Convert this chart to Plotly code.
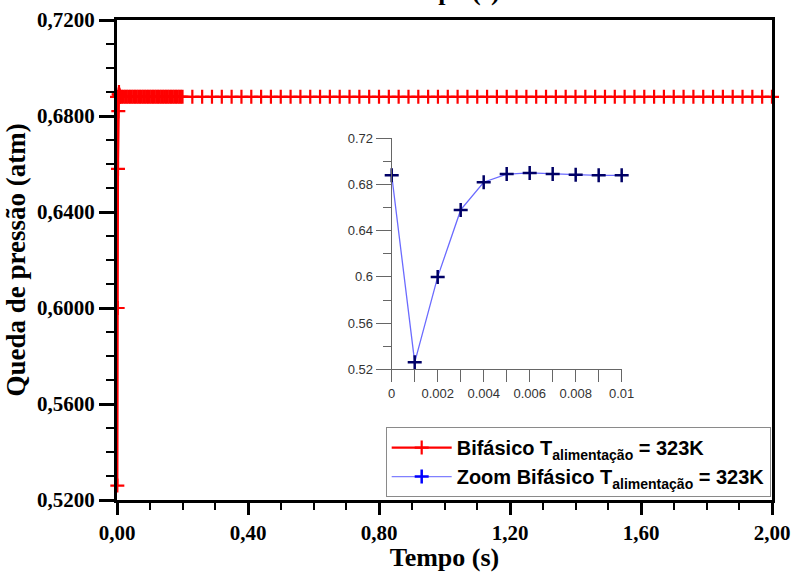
import plotly.graph_objects as go

# ---------------- data ----------------
# Zoomed series (inset): first 0.01 s
t_zoom = [0.000, 0.001, 0.002, 0.003, 0.004, 0.005, 0.006, 0.007, 0.008, 0.009, 0.010]
p_zoom = [0.688, 0.526, 0.600, 0.658, 0.682, 0.689, 0.690, 0.689, 0.6885, 0.688, 0.688]

# Main series: dense part (0.01 - 0.2 s)
t_dense = [0.015, 0.020, 0.025, 0.030, 0.035, 0.040, 0.045, 0.050, 0.055, 0.060,
           0.065, 0.070, 0.075, 0.080, 0.085, 0.090, 0.095, 0.100, 0.105, 0.110,
           0.115, 0.120, 0.125, 0.130, 0.135, 0.140, 0.145, 0.150, 0.155, 0.160,
           0.165, 0.170, 0.175, 0.180, 0.185, 0.190, 0.195, 0.200]
p_dense = [0.688, 0.688, 0.688, 0.688, 0.688, 0.688, 0.688, 0.688, 0.688, 0.688,
           0.688, 0.688, 0.688, 0.688, 0.688, 0.688, 0.688, 0.688, 0.688, 0.688,
           0.688, 0.688, 0.688, 0.688, 0.688, 0.688, 0.688, 0.688, 0.688, 0.688,
           0.688, 0.688, 0.688, 0.688, 0.688, 0.688, 0.688, 0.688]

# Main series: sparse part (0.23 - 2.0 s)
t_sparse = [0.23, 0.26, 0.29, 0.32, 0.35, 0.38, 0.41, 0.44, 0.47, 0.50,
            0.53, 0.56, 0.59, 0.62, 0.65, 0.68, 0.71, 0.74, 0.77, 0.80,
            0.83, 0.86, 0.89, 0.92, 0.95, 0.98, 1.01, 1.04, 1.07, 1.10,
            1.13, 1.16, 1.19, 1.22, 1.25, 1.28, 1.31, 1.34, 1.37, 1.40,
            1.43, 1.46, 1.49, 1.52, 1.55, 1.58, 1.61, 1.64, 1.67, 1.70,
            1.73, 1.76, 1.79, 1.82, 1.85, 1.88, 1.91, 1.94, 1.97, 2.00]
p_sparse = [0.688, 0.688, 0.688, 0.688, 0.688, 0.688, 0.688, 0.688, 0.688, 0.688,
            0.688, 0.688, 0.688, 0.688, 0.688, 0.688, 0.688, 0.688, 0.688, 0.688,
            0.688, 0.688, 0.688, 0.688, 0.688, 0.688, 0.688, 0.688, 0.688, 0.688,
            0.688, 0.688, 0.688, 0.688, 0.688, 0.688, 0.688, 0.688, 0.688, 0.688,
            0.688, 0.688, 0.688, 0.688, 0.688, 0.688, 0.688, 0.688, 0.688, 0.688,
            0.688, 0.688, 0.688, 0.688, 0.688, 0.688, 0.688, 0.688, 0.688, 0.688]

t_main = t_zoom + t_dense + t_sparse
p_main = p_zoom + p_dense + p_sparse

# tick labels
x_ticks = [0.0, 0.4, 0.8, 1.2, 1.6, 2.0]
x_ticklabels = ["0,00", "0,40", "0,80", "1,20", "1,60", "2,00"]
y_ticks = [0.52, 0.56, 0.60, 0.64, 0.68, 0.72]
y_ticklabels = ["0,5200", "0,5600", "0,6000", "0,6400", "0,6800", "0,7200"]

name_main = "<b>Bifásico T<sub>alimentação</sub> = 323K</b>"
name_zoom = "<b>Zoom Bifásico T<sub>alimentação</sub> = 323K</b>"

SERIF = "Liberation Serif"
SANS = "Arial, Liberation Sans"

fig = go.Figure()

fig.add_trace(go.Scatter(
    x=t_main, y=p_main, mode="lines+markers", name=name_main,
    line=dict(color="#ff0000", width=2.2),
    marker=dict(symbol="cross-thin", size=10, color="#ff0000",
                line=dict(color="#ff0000", width=2.2)),
    cliponaxis=False, xaxis="x", yaxis="y",
))

fig.add_trace(go.Scatter(
    x=t_zoom, y=p_zoom, mode="lines+markers", showlegend=False,
    line=dict(color="#6b6bff", width=1.3),
    marker=dict(symbol="cross-thin", size=10, color="#000066",
                line=dict(color="#000066", width=2.5)),
    cliponaxis=False, xaxis="x2", yaxis="y2",
))

# legend entry for the zoom series
fig.add_trace(go.Scatter(
    x=[None], y=[None], mode="lines+markers", name=name_zoom,
    line=dict(color="#8080ff", width=1.3),
    marker=dict(symbol="cross-thin", size=10, color="#0000ff",
                line=dict(color="#0000ff", width=2.5)),
    xaxis="x2", yaxis="y2",
))

fig.update_layout(
    width=793, height=572,
    margin=dict(l=117, r=21, t=20, b=72, autoexpand=False),
    paper_bgcolor="white", plot_bgcolor="white",
    showlegend=True,
    legend=dict(
        x=0.998, y=0.006, xanchor="right", yanchor="bottom",
        bgcolor="white", bordercolor="#8a8a8a", borderwidth=1,
        font=dict(family=SANS, size=20, color="black"),
        itemwidth=60, tracegroupgap=0,
    ),
    xaxis=dict(
        range=[0, 2.0], domain=[0, 1], automargin=False,
        tickvals=x_ticks, ticktext=x_ticklabels,
        ticks="outside", ticklen=12, tickwidth=3, tickcolor="black",
        minor=dict(dtick=0.1, tick0=0, ticks="outside", ticklen=7, tickwidth=2, tickcolor="black"),
        showline=True, linecolor="black", linewidth=3, mirror=True,
        showgrid=False, zeroline=False,
        tickfont=dict(family=SERIF, size=21, color="black", weight="bold"),
        title=dict(text="<b>Tempo (s)</b>", font=dict(family=SERIF, size=26, color="black"), standoff=4),
    ),
    yaxis=dict(
        range=[0.52, 0.72], domain=[0, 1], automargin=False,
        tickvals=y_ticks, ticktext=y_ticklabels,
        ticks="outside", ticklen=15, tickwidth=3, tickcolor="black",
        minor=dict(dtick=0.01, tick0=0.52, ticks="outside", ticklen=8, tickwidth=2, tickcolor="black"),
        showline=True, linecolor="black", linewidth=3, mirror=True,
        showgrid=False, zeroline=False,
        tickfont=dict(family=SERIF, size=21, color="black", weight="bold"),
        title=dict(text="<b>Queda de pressão (atm)</b>", font=dict(family=SERIF, size=27, color="black"), standoff=4),
    ),
    xaxis2=dict(
        range=[0, 0.01], domain=[0.4194, 0.7705], anchor="y2", automargin=False,
        tickvals=[0, 0.002, 0.004, 0.006, 0.008, 0.01],
        ticktext=["0", "0.002", "0.004", "0.006", "0.008", "0.01"],
        ticks="outside", ticklen=12, tickwidth=1, tickcolor="#666666",
        minor=dict(dtick=0.001, tick0=0, ticks="outside", ticklen=12, tickwidth=1, tickcolor="#666666"),
        showline=True, linecolor="#666666", linewidth=1, mirror=False,
        showgrid=False, zeroline=False,
        tickfont=dict(family=SANS, size=13, color="#333333"),
    ),
    yaxis2=dict(
        range=[0.52, 0.72], domain=[0.2723, 0.7535], anchor="x2", automargin=False,
        tickvals=[0.52, 0.56, 0.60, 0.64, 0.68, 0.72],
        ticktext=["0.52", "0.56", "0.6", "0.64", "0.68", "0.72"],
        ticks="outside", ticklen=15, tickwidth=1, tickcolor="#666666",
        minor=dict(dtick=0.02, tick0=0.52, ticks="outside", ticklen=8, tickwidth=1, tickcolor="#666666"),
        showline=True, linecolor="#666666", linewidth=1, mirror=False,
        showgrid=False, zeroline=False,
        tickfont=dict(family=SANS, size=13, color="#333333"),
    ),
    annotations=[dict(
        text="<b>Tempo (s)</b>", x=0.5, y=1, xref="paper", yref="paper",
        xanchor="center", yanchor="bottom", yshift=12, showarrow=False,
        font=dict(family=SERIF, size=26, color="black"),
    )],
)

fig.write_html(
    "out.html",
    config={"displayModeBar": False},
    post_script="document.body.style.margin='0';document.body.style.overflow='hidden';",
)
